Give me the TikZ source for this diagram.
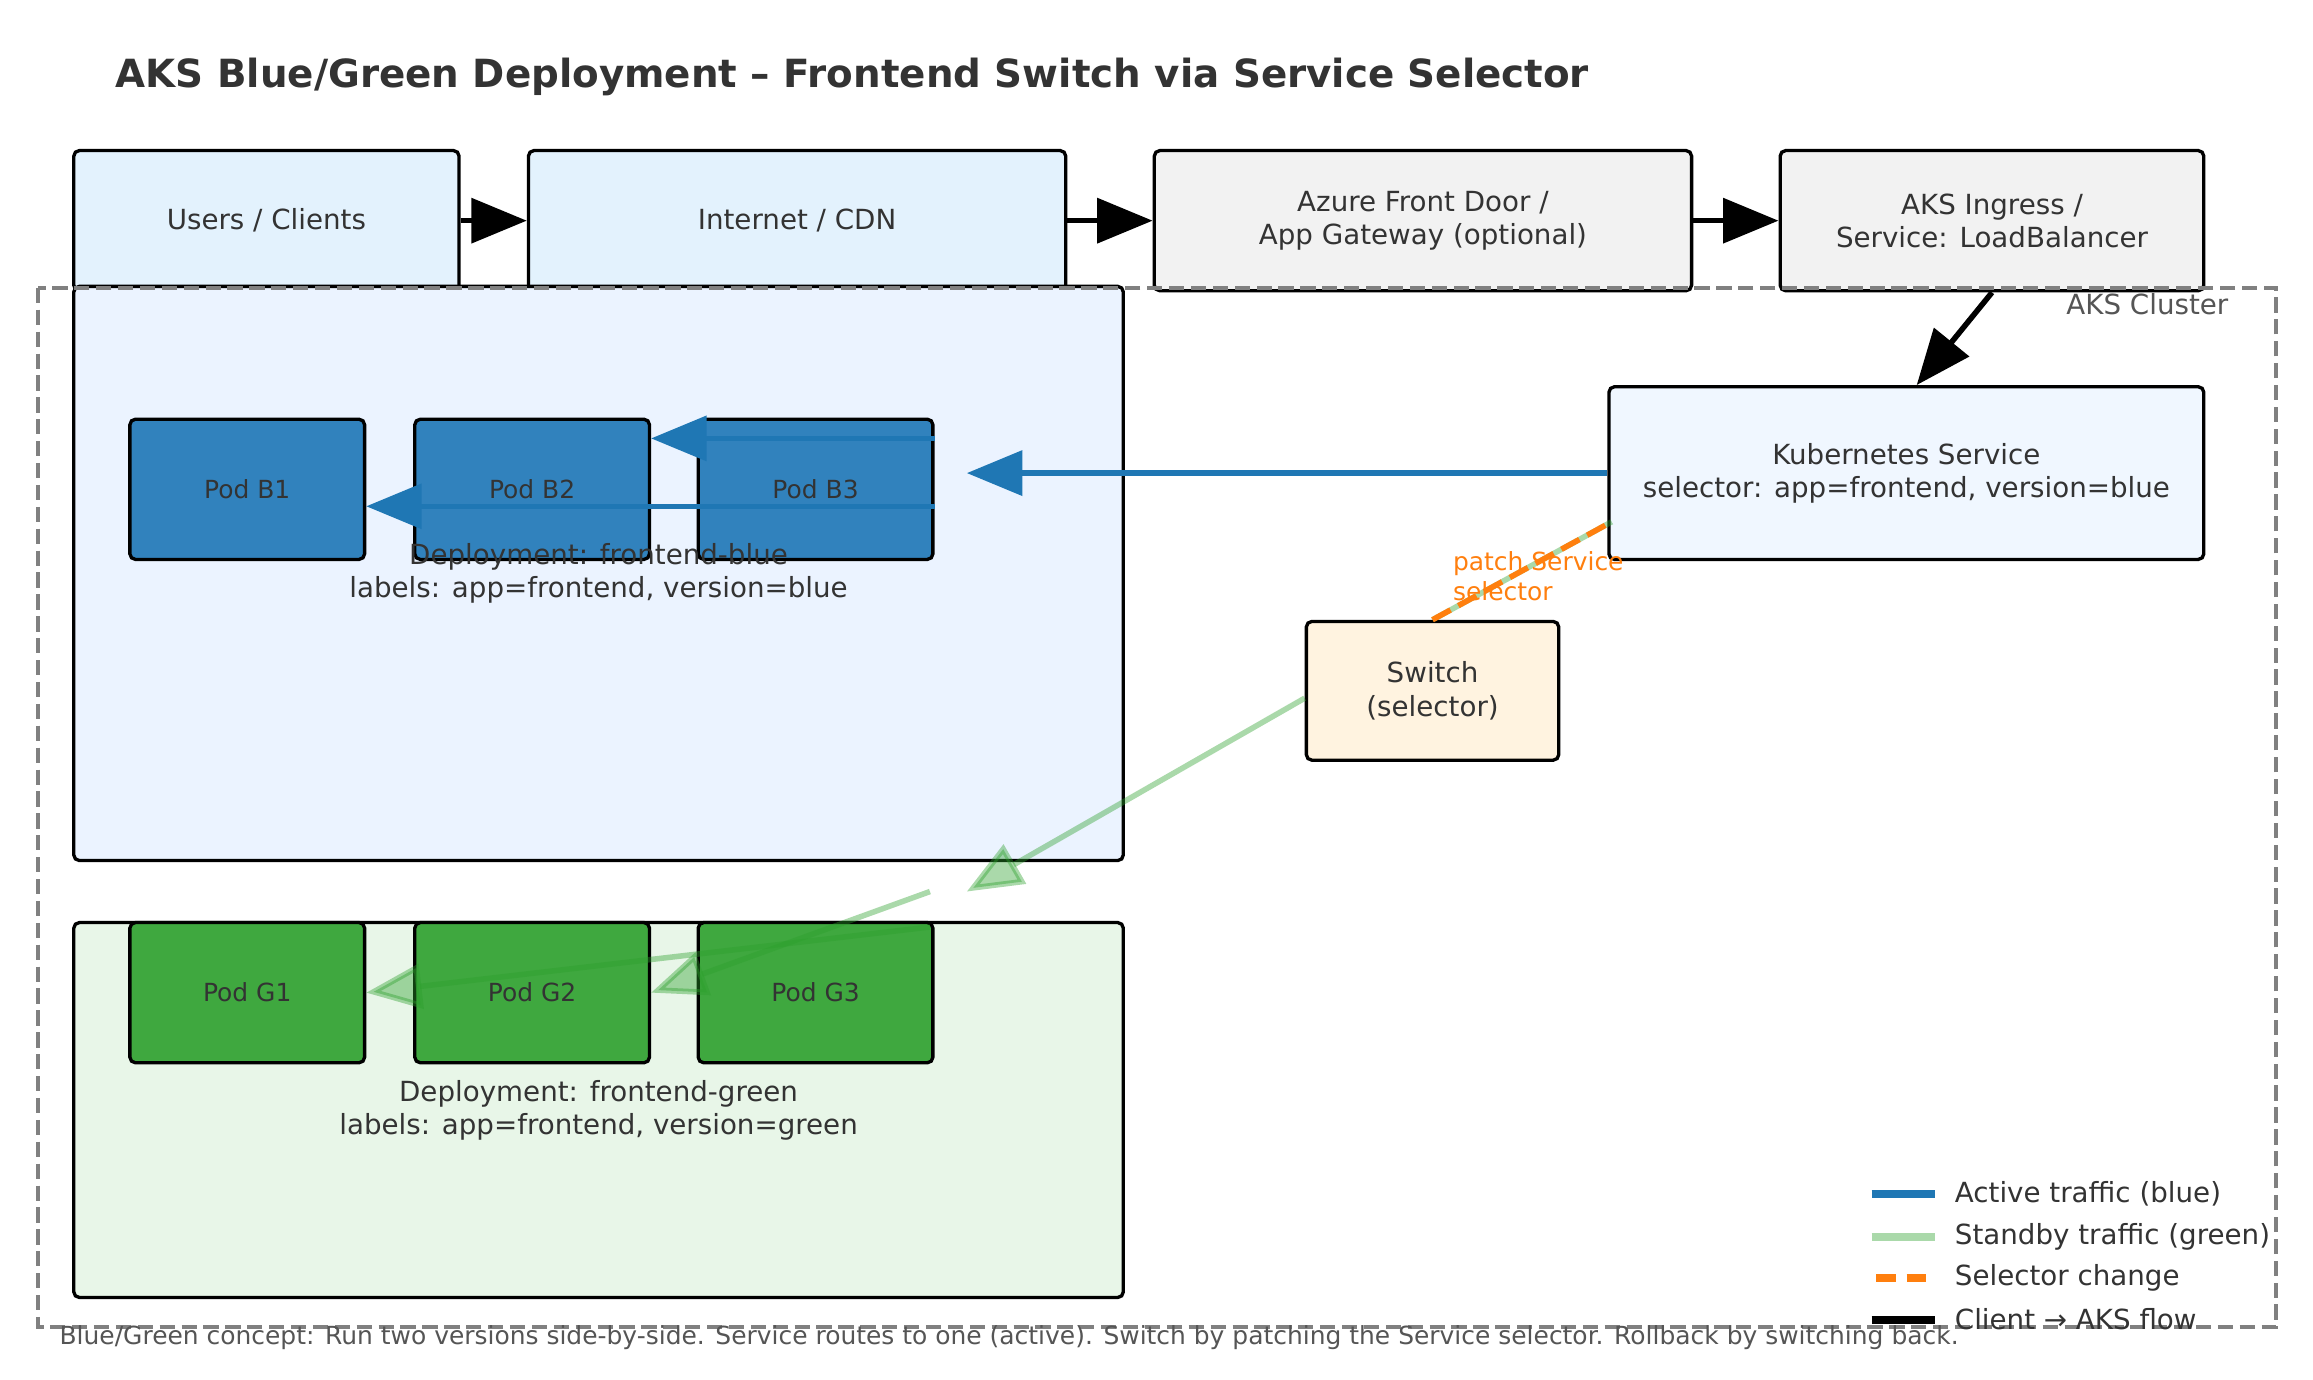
\documentclass[tikz,border=0pt]{standalone}
\usepackage{fontspec}
\setmainfont{DejaVu Sans}
\usepackage{tikz}
\usetikzlibrary{arrows.meta, calc}

\definecolor{txtgray}{HTML}{333333}
\definecolor{notegray}{HTML}{555555}
\definecolor{clusgray}{HTML}{808080}
\definecolor{clientfill}{HTML}{E3F2FD}
\definecolor{gatefill}{HTML}{F2F2F2}
\definecolor{bluedepfill}{HTML}{EBF3FF}
\definecolor{greendepfill}{HTML}{E8F6E8}
\definecolor{svcfill}{HTML}{F0F7FF}
\definecolor{switchfill}{HTML}{FFF3E0}
\definecolor{podblue}{HTML}{3182BD}
\definecolor{podgreen}{HTML}{3FA83F}
\definecolor{activeblue}{HTML}{1F77B4}
\definecolor{standbygreen}{HTML}{2CA02C}
\definecolor{selorange}{HTML}{FF7F0E}

\newcommand{\unitpx}{0.5326pt}

\begin{document}
\begin{tikzpicture}[x=0.5326pt, y=-0.5326pt,
    every node/.style={text=txtgray, font=\fontsize{10}{12}\selectfont},
    plain/.style={inner sep=0pt},
    box/.style={draw=black, line width=1.2pt, rounded corners=2pt, inner sep=0pt, align=center},
    topbox/.style={box, minimum height=95*\unitpx},
    podbox/.style={box, minimum width=159*\unitpx, minimum height=95*\unitpx, font=\fontsize{9}{11}\selectfont},
    flow/.style={line width=2pt, -{Triangle[length=20pt, width=16pt]}},
    active/.style={draw=activeblue, line width=2pt, -{Triangle[length=20pt, width=16pt]}},
    standby/.style={draw=standbygreen, opacity=0.4, line width=2pt, -{Triangle[length=20pt, width=16pt]}},
    selchange/.style={draw=selorange, line width=2pt, dash pattern=on 7.4pt off 3.2pt}
  ]
            \path[fill=white] (0, 0) rectangle (1567, 934.9);

            % title
            \node[plain, anchor=base west, font=\fontsize{14}{17}\selectfont\bfseries] (title) at (78, 59)
                {AKS Blue/Green Deployment – Frontend Switch via Service Selector};

            % client path
            \node[topbox, fill=clientfill, minimum width=261*\unitpx] (users) at (180.5, 149.5) {Users / Clients};
            \node[topbox, fill=clientfill, minimum width=364*\unitpx] (inet) at (540, 149.5) {Internet / CDN};
            \node[topbox, fill=gatefill, minimum width=364*\unitpx] (afd) at (964, 149.5) {Azure Front Door /\\App Gateway (optional)};
            \node[topbox, fill=gatefill, minimum width=287*\unitpx] (ingress) at (1349.5, 149.5) {AKS Ingress /\\Service: LoadBalancer};

            \draw[flow] (users) -- (inet);
            \draw[flow] (inet) -- (afd);
            \draw[flow] (afd) -- (ingress);

            % deployments
            \node[box, fill=bluedepfill, minimum width=711*\unitpx, minimum height=389*\unitpx] (depblue) at (405.5, 388.5) {};
            \node[box, fill=greendepfill, minimum width=711*\unitpx, minimum height=254*\unitpx] (depgreen) at (405.5, 752) {};

            \node[podbox, fill=podblue] (podb1) at (167.5, 331.5) {Pod B1};
            \node[podbox, fill=podblue] (podb2) at (360.5, 331.5) {Pod B2};
            \node[podbox, fill=podblue] (podb3) at (552.5, 331.5) {Pod B3};
            \node[podbox, fill=podgreen] (podg1) at (167.5, 672.5) {Pod G1};
            \node[podbox, fill=podgreen] (podg2) at (360.5, 672.5) {Pod G2};
            \node[podbox, fill=podgreen] (podg3) at (552.5, 672.5) {Pod G3};

            \node[align=center] (bluelbl) at (depblue.center) {Deployment: frontend-blue\\labels: app=frontend, version=blue};
            \node[align=center] (greenlbl) at (depgreen.center) {Deployment: frontend-green\\labels: app=frontend, version=green};

            % service and switch
            \node[box, fill=svcfill, minimum width=403*\unitpx, minimum height=117*\unitpx] (svc) at (1291.5, 320.5)
                {Kubernetes Service\\selector: app=frontend, version=blue};
            \node[box, fill=switchfill, minimum width=171*\unitpx, minimum height=94*\unitpx] (switch) at (970.5, 468) {Switch\\(selector)};

            \draw[flow] (ingress.south) -- ($(svc.north) + (7, 0)$);

            % active traffic
            \coordinate (bluein) at (655, 320.5);
            \draw[active] (svc.west) -- (bluein);
            \draw[active] ($(podb3.east) + (0, -34.5)$) -- ($(podb2.east) + (0, -34.5)$);
            \draw[active] ($(podb3.east) + (0, 11.5)$) -- ($(podb1.east) + (0, 11.5)$);

            % standby traffic
            \coordinate (greenin) at (655, 604);
            \coordinate (gfan1) at (630, 604);
            \coordinate (gfan2) at (630, 628);
            \draw[standby] ($(switch.west) + (0, 5)$) -- (greenin);
            \draw[standby] (gfan1) -- (podg2.east);
            \draw[standby] (gfan2) -- (podg1.east);

            % selector patch
            \coordinate (svcpatch) at ($(svc.west) + (3, 33)$);
            \draw[standby, -] (switch.north) -- (svcpatch);
            \draw[selchange] (switch.north) -- (svcpatch);
            \node[plain, anchor=west, align=left, text=selorange, font=\fontsize{9}{10.8}\selectfont] (patchlbl) at (984, 390.5)
                {patch Service\\selector};

            % cluster
            \draw[clusgray, line width=1.5pt, dash pattern=on 5.5pt off 2.4pt] (26, 195) rectangle (1542, 899);
            \node[plain, anchor=east, text=notegray] (cluslbl) at (1510, 206) {AKS Cluster};

            % legend
            \draw[activeblue, line width=2.8pt] (1268, 809) -- (1311, 809);
            \draw[standbygreen, opacity=0.4, line width=2.8pt] (1268, 838) -- (1311, 838);
            \draw[selorange, line width=2.8pt, dash pattern=on 7pt off 4pt] (1271, 866) -- (1311, 866);
            \draw[black, line width=2.8pt] (1268, 894) -- (1311, 894);
            \node[plain, anchor=west] (legactive) at (1324, 809) {Active traffic (blue)};
            \node[plain, anchor=west] (legstandby) at (1324, 838) {Standby traffic (green)};
            \node[plain, anchor=west] (legsel) at (1324, 866) {Selector change};
            \node[plain, anchor=west] (legflow) at (1324, 894) {Client → AKS flow};

            % footnote
            \node[plain, anchor=west, text=notegray, font=\fontsize{9}{11}\selectfont] (note) at (40, 906)
                {Blue/Green concept: Run two versions side-by-side. Service routes to one (active). Switch by patching the Service selector. Rollback by switching back.};
\end{tikzpicture}
\end{document}
